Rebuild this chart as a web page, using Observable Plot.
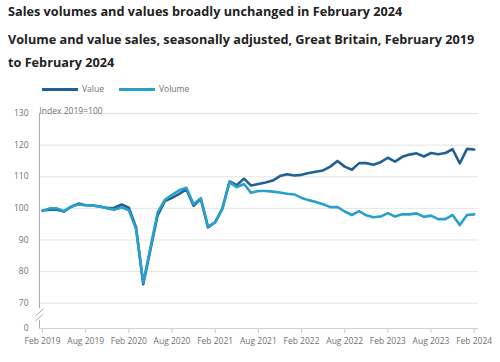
<!DOCTYPE html>
<html>
<head>
<meta charset="utf-8">
<script src="https://cdn.jsdelivr.net/npm/d3@7"></script>
<script src="https://cdn.jsdelivr.net/npm/@observablehq/plot@0.6"></script>
<style>
  html, body { margin: 0; padding: 0; background: #fff; }
  body { width: 500px; height: 362px; position: relative; overflow: hidden; font-family: "Open Sans", sans-serif; }
  .t { position: absolute; left: 8px; white-space: nowrap; color: #222; font-weight: 700; font-size: 12.7px; line-height: 16px; }
  .lg { position: absolute; font-size: 8.5px; color: #707070; line-height: 12px; }
  .sw { position: absolute; height: 3px; width: 36px; }
  #chart { position: absolute; left: 0; top: 98px; }
</style>
</head>
<body>
<div class="t" id="title" style="top:3px">Sales volumes and values broadly unchanged in February 2024</div>
<div class="t" id="sub1" style="top:31px">Volume and value sales, seasonally adjusted, Great Britain, February 2019</div>
<div class="t" id="sub2" style="top:54px">to February 2024</div>
<div id="legend"></div>
<div id="chart"></div>
<script>
// Monthly index, Feb 2019 (0) to Feb 2024 (60)
const seriesNames = ["Value", "Volume"];
const seriesColors = ["#206095", "#27a0cc"];
const value = [
  99.3, 99.6, 99.6, 99.0, 100.5, 101.5, 101.0, 100.9, 100.6, 100.1, 100.2, 101.2,
  100.2, 94.0, 76.0, 87.0, 97.8, 102.3, 103.3, 104.6, 106.0, 100.8, 103.0, 94.0,
  95.6, 100.0, 108.5, 107.3, 109.4, 107.2, 107.7, 108.2, 108.8, 110.2, 110.8, 110.4,
  110.6, 111.2, 111.6, 112.0, 113.2, 115.0, 113.2, 112.2, 114.3, 114.3, 113.8, 114.6,
  116.0, 114.8, 116.3, 117.0, 117.4, 116.4, 117.5, 117.1, 117.5, 118.7, 114.2, 118.8,
  118.6
];
const volume = [
  99.2, 100.0, 100.0, 99.1, 100.6, 101.2, 101.0, 100.9, 100.5, 100.0, 99.6, 100.3,
  99.4, 93.5, 76.5, 87.5, 98.7, 102.7, 104.3, 105.7, 106.5, 101.3, 103.2, 94.2,
  95.6, 99.8, 108.3, 106.7, 107.7, 104.9, 105.5, 105.5, 105.3, 105.0, 104.6, 104.4,
  103.3, 102.6, 102.0, 101.3, 100.4, 100.4, 99.0, 97.9, 99.1, 97.8, 97.2, 97.4,
  98.5, 97.4, 98.1, 98.1, 98.4, 97.3, 97.7, 96.6, 96.6, 97.9, 94.7, 97.9,
  98.1
];
const xTickLabels = ["Feb 2019", "Aug 2019", "Feb 2020", "Aug 2020", "Feb 2021", "Aug 2021",
  "Feb 2022", "Aug 2022", "Feb 2023", "Aug 2023", "Feb 2024"];
const yTicks = [70, 80, 90, 100, 110, 120, 130];
const yBreakBase = 62; // position of the "0" label below the axis break
const yLabel = "Index 2019=100";

// legend
const legend = document.getElementById("legend");
const legendPos = [[42, 82], [119, 159]];
seriesNames.forEach((n, k) => {
  const sw = document.createElement("div");
  sw.className = "sw";
  sw.style.left = legendPos[k][0] + "px";
  sw.style.top = "88px";
  sw.style.background = seriesColors[k];
  legend.appendChild(sw);
  const tx = document.createElement("div");
  tx.className = "lg";
  tx.style.left = legendPos[k][1] + "px";
  tx.style.top = "83px";
  tx.textContent = n;
  legend.appendChild(tx);
});

const rows = [];
value.forEach((v, i) => rows.push({i, v, s: "Value"}));
volume.forEach((v, i) => rows.push({i, v, s: "Volume"}));

const x0 = -0.42;
const xTicks = xTickLabels.map((_, k) => k * 6);

const chart = Plot.plot({
  width: 500,
  height: 264,
  marginTop: 15,
  marginLeft: 39,
  marginRight: 22,
  marginBottom: 34,
  style: {fontFamily: "Open Sans", fontSize: "8.5px", color: "#707070", background: "white", overflow: "visible"},
  x: {type: "linear", domain: [x0, 60.6], axis: null},
  y: {domain: [yBreakBase, 130], axis: null},
  color: {domain: seriesNames, range: seriesColors},
  marks: [
    Plot.gridY(yTicks, {stroke: "#e4e4e4", strokeOpacity: 1}),
    Plot.axisY([yBreakBase, ...yTicks], {tickSize: 0, tickPadding: 11, tickFormat: d => d === yBreakBase ? "0" : String(d), fill: "#707070", label: null}),
    Plot.axisX(xTicks, {tickSize: 5, tickPadding: 4, stroke: "#c8c8c8", tickFormat: d => xTickLabels[d / 6], fill: "#707070", label: null}),
    Plot.ruleY([yBreakBase], {stroke: "#ccd3e0"}),
    Plot.ruleX([x0], {y1: yBreakBase, y2: 64.6, stroke: "#aaaaaa"}),
    Plot.ruleX([x0], {y1: 68.2, y2: 130, stroke: "#aaaaaa"}),
    Plot.link([64.4, 66.0], {x1: x0 - 0.55, x2: x0 + 0.55, y1: d => d, y2: d => d + 2.2, stroke: "#aaaaaa", strokeWidth: 1}),
    Plot.text([yLabel], {frameAnchor: "top-left", dy: -6, textAnchor: "start", fill: "#707070"}),
    Plot.line(rows, {x: "i", y: "v", z: "s", stroke: "s", strokeWidth: 2.6, strokeLinejoin: "round"})
  ]
});
document.getElementById("chart").appendChild(chart);
</script>
</body>
</html>
